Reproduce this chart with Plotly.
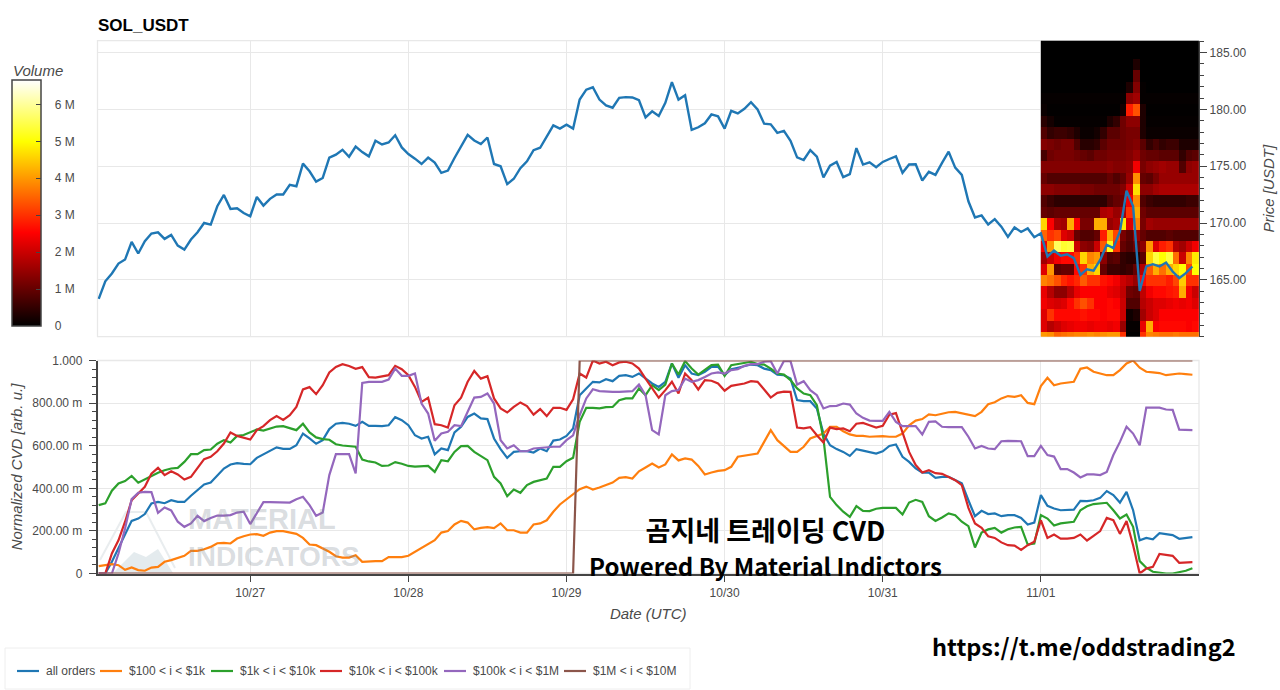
#!/usr/bin/env python3
import pandas as pd
import plotly.graph_objects as go

WIDTH = 1280
HEIGHT = 690

# hourly samples, 10/26 01:00 to 11/01 23:00 UTC
price = [
    163.33, 164.88, 165.56, 166.44, 166.79, 168.34, 167.32, 168.40, 169.08, 169.19, 168.61, 168.96,
    168.02, 167.67, 168.55, 169.19, 170.01, 169.87, 171.48, 172.48, 171.25, 171.31, 170.89, 170.60,
    172.30, 171.54, 172.13, 172.51, 172.51, 173.36, 173.24, 175.23, 174.56, 173.65, 173.97, 175.75,
    176.02, 176.45, 175.84, 176.74, 176.25, 175.87, 177.24, 176.92, 177.09, 177.73, 176.66, 176.08,
    175.67, 175.20, 175.76, 175.32, 174.42, 174.62, 175.73, 176.80, 177.76, 177.27, 176.95, 177.53,
    175.20, 175.00, 173.43, 173.90, 174.83, 175.44, 176.42, 176.63, 177.59, 178.60, 178.31, 178.66,
    178.31, 180.87, 181.74, 181.95, 180.87, 180.35, 180.15, 181.02, 181.08, 181.05, 180.81, 179.30,
    179.83, 179.42, 180.58, 182.41, 180.87, 181.25, 178.20, 178.43, 178.78, 179.56, 179.39, 178.31,
    179.88, 179.65, 180.06, 180.64, 180.00, 178.75, 178.69, 177.94, 178.11, 177.24, 175.78, 175.55,
    176.42, 175.84, 174.01, 175.06, 175.38, 174.04, 174.30, 176.60, 175.15, 175.35, 174.91, 175.38,
    175.64, 175.87, 174.42, 175.15, 175.17, 173.75, 174.51, 174.24, 175.29, 176.28, 174.88, 174.24,
    171.92, 170.49, 170.67, 169.88, 170.35, 169.68, 168.78, 169.62, 169.22, 169.53, 168.75, 169.10,
    167.06, 167.59, 167.12, 167.26, 166.91, 165.44, 165.94, 165.82, 166.76, 168.09, 167.79, 169.26,
    172.85, 171.47, 164.03, 166.18, 166.38, 166.18, 166.53, 165.74, 165.15, 165.59, 166.18,
]

cvd_all = [
    0.0, 0.0, .055, .117, .18, .247, .258, .279, .329, .336, .33, .344, .336, .336, .365, .391, .418, .427,
    .459, .493, .512, .518, .515, .513, .543, .559, .577, .592, .585, .585, .602, .657, .634, .609, .626,
    .678, .703, .707, .703, .693, .712, .693, .693, .692, .696, .734, .72, .696, .649,
    .634, .642, .559, .587, .579, .662, .689, .735, .751, .728, .725, .634, .584, .543, .571, .574, .574,
    .568, .587, .574, .624, .629, .646, .681, .837, .869, .90, .897, .912, .903, .928, .931, .923, .939,
    .915, .892, .876, .90, .986, .919, .978, .939, .931, .947, .97, .97, .931, .959, .966, .975, .981,
    .978, .962, .955, .934, .931, .915, .814, .809, .809, .775, .657, .602, .584,
    .571, .552, .584, .577, .571, .563, .574, .599, .606, .548, .524, .493, .474, .474, .449, .454, .454,
    .438, .423, .344, .269, .294, .279, .282, .269, .274, .274, .261, .23, .239, .368, .318, .305, .297,
    .299, .30, .341, .34, .344, .355, .387, .368, .333, .383, .297, .156, .167, .161, .189, .183, .18,
    .163, .166, .171,
]
cvd_100_1k = [
    .035, .039, .044, .039, .017, .028, .016, .013, .028, .031, .055, .063, .074, .083, .106, .106, .114,
    .125, .142, .144, .141, .164, .175, .183, .185, .177, .192, .199, .199, .191, .186, .167, .136, .133,
    .117, .102, .081, .075, .075, .086, .055, .058, .058, .058, .077, .077, .077, .083, .102,
    .12, .141, .156, .192, .199, .23, .247, .239, .207, .214, .218, .213, .235, .203, .203, .192, .192,
    .23, .235, .25, .29, .324, .347, .371, .396, .408, .394, .404, .415, .427, .449, .452, .446, .48,
    .498, .516, .498, .512, .559, .531, .54, .535, .505, .465, .474, .482, .485, .501, .548, .552, .556,
    .563, .618, .673, .626, .599, .571, .571, .595, .634, .646, .657, .689, .689,
    .668, .653, .646, .646, .642, .645, .645, .642, .642, .657, .696, .718, .725, .747, .743, .75, .757,
    .759, .753, .745, .739, .759, .795, .804, .822, .833, .829, .837, .801, .795, .88, .919, .884, .892,
    .895, .90, .961, .967, .947, .939, .931, .931, .955, .986, 1.0, .966, .947, .944, .941, .931, .934,
    .939, .936, .933,
]
cvd_1k_10k = [
    .321, .329, .389, .423, .434, .458, .426, .442, .458, .473, .485, .493, .496, .524, .56, .56, .579,
    .582, .609, .626, .615, .646, .65, .662, .676, .671, .681, .69, .692, .684, .673, .703, .662, .639,
    .631, .628, .607, .601, .598, .595, .535, .526, .521, .505, .507, .523, .515, .505, .502,
    .505, .505, .477, .532, .527, .571, .598, .599, .571, .552, .532, .454, .423, .363, .394, .379, .415,
    .43, .438, .446, .501, .501, .527, .543, .712, .778, .778, .775, .781, .782, .814, .822, .822, .869,
    .837, .884, .861, .887, .986, .934, .997, .962, .934, .955, .978, .981, .928, .978, .984, .987, .994,
    .983, .981, .962, .939, .934, .908, .869, .845, .837, .79, .634, .36, .321,
    .29, .266, .316, .294, .293, .304, .308, .308, .308, .277, .333, .346, .336, .269, .247, .263, .282,
    .274, .243, .222, .122, .192, .207, .214, .192, .208, .216, .219, .136, .141, .274, .258, .225, .235,
    .238, .243, .297, .316, .326, .33, .332, .297, .258, .277, .219, .058, .027, .008, .003, 0.0, 0.0,
    .005, .013, .025,
]
cvd_10k_100k = [
    0.0, 0.0, .094, .156, .243, .344, .376, .407, .469, .496, .462, .48, .465, .441, .454, .493, .537,
    .548, .574, .61, .662, .646, .637, .629, .673, .692, .72, .739, .721, .743, .782, .864, .875, .842,
    .884, .944, .97, .983, .974, .961, .969, .922, .92, .925, .931, .975, .959, .931, .876,
    .806, .825, .701, .696, .685, .79, .825, .90, .951, .915, .926, .822, .775, .756, .782, .803, .786,
    .746, .772, .739, .778, .778, .768, .818, .939, .92, 1.0, .986, .994, .978, .991, .994, .986, .962,
    .915, .869, .825, .861, .90, .845, .939, .908, .864, .908, .905, .892, .858, .881, .887, .892, .903,
    .90, .864, .826, .848, .854, .853, .685, .681, .687, .649, .615, .685, .678,
    .681, .668, .703, .707, .696, .685, .693, .746, .753, .657, .571, .509, .474, .485, .471, .468, .454,
    .438, .415, .308, .235, .214, .175, .167, .146, .133, .131, .111, .133, .149, .25, .167, .183, .164,
    .164, .167, .183, .155, .177, .199, .261, .25, .186, .246, .133, 0.0, .023, .031, .092, .088, .083,
    .05, .05, .053,
]
cvd_100k_1m = [
    0.0, 0.0, 0.0, .094, .211, .349, .379, .383, .382, .285, .31, .296, .243, .219, .235, .271, .246,
    .261, .272, .272, .274, .286, .29, .232, .282, .335, .335, .335, .335, .333, .349, .36, .321, .271,
    .286, .462, .56, .56, .56, .47, .895, .90, .90, .90, .91, .962, .928, .928, .939,
    .798, .751, .623, .657, .665, .696, .692, .759, .826, .829, .845, .798, .626, .587, .602, .574, .574,
    .587, .59, .59, .595, .595, .626, .649, .743, .822, .865, .856, .853, .853, .853, .853, .856, .887,
    .837, .673, .653, .837, .856, .861, .915, .90, .908, .923, .939, .944, .939, .955, .959, .975, .983,
    .983, .994, .997, .939, .998, .997, .887, .903, .861, .837, .775, .786, .787,
    .798, .793, .751, .731, .718, .717, .717, .759, .712, .692, .692, .692, .653, .712, .714, .689, .687,
    .687, .687, .642, .587, .599, .587, .584, .621, .623, .621, .621, .551, .551, .599, .556, .549, .49,
    .49, .474, .451, .465, .465, .462, .477, .556, .618, .689, .657, .602, .779, .779, .779, .77, .768,
    .675, .675, .673,
]
cvd_1m_10m = [0.0] * 73 + [1.0] * 94

series_names = ["all orders", "$100 < i < $1k", "$1k < i < $10k", "$10k < i < $100k", "$100k < i < $1M", "$1M < i < $10M"]
series_colors = ["#1f77b4", "#ff7f0e", "#2ca02c", "#d62728", "#9467bd", "#8c564b"]

# volume profile in M, bottom row first, one column per hour of 11/01
volume_prices = [159.94 + k for k in range(27)]
volume = [
    [4.0, 3.9, 3.5, 3.6, 3.7, 3.8, 3.8, 3.9, 3.8, 3.9, 4.0, 4.0, 3.0, 0.0, 0.0, 3.0, 3.8, 3.7, 3.6, 3.6, 3.7, 3.6, 3.6, 3.6],
    [2.2, 1.8, 2.0, 2.2, 2.3, 2.4, 2.4, 2.3, 2.4, 2.4, 2.3, 2.4, 1.5, .05, .05, 2.3, 4.2, 2.5, 2.6, 2.6, 2.6, 2.6, 2.5, 2.6],
    [2.2, 3.0, 2.6, 2.6, 2.6, 2.6, 2.7, 2.6, 2.6, 2.5, 2.6, 2.6, 2.0, .15, .3, 1.6, 2.0, 2.2, 2.5, 2.5, 2.5, 2.5, 2.5, 2.5],
    [2.4, 2.2, 2.1, 2.2, 2.6, 3.0, 3.3, 3.0, 2.5, 2.5, 2.6, 2.5, 2.0, .8, .8, 1.8, 2.0, 2.2, 2.2, 2.3, 2.4, 2.3, 2.4, 2.2],
    [2.3, 1.8, 1.4, 1.4, 1.8, 2.3, 2.5, 2.5, 2.5, 2.5, 2.3, 2.2, 1.9, 1.1, 1.0, 1.9, 2.4, 2.6, 2.6, 2.7, 2.8, 4.2, 2.4, 2.0],
    [3.8, 3.6, 3.3, 2.9, 2.7, 2.9, 3.4, 3.0, 3.0, 2.7, 2.6, 2.4, 2.0, 1.8, 1.5, 2.6, 3.0, 3.0, 3.0, 2.8, 3.2, 4.5, 3.0, 3.0],
    [2.2, 4.0, .9, 1.0, 1.0, 2.6, 3.0, 4.2, 4.6, 1.0, .6, .6, .5, .6, 1.0, 1.8, 3.4, 4.2, 3.6, 4.2, 4.6, 5.0, 3.2, 5.0],
    [1.6, 2.0, 2.4, 2.6, 2.6, 3.0, 4.6, 3.8, 4.0, 1.4, .8, .9, .5, .4, .4, .9, 4.6, 5.4, 5.0, 5.4, 3.6, 2.0, 3.8, 4.8],
    [2.4, 4.0, 5.6, 5.3, 5.4, 2.0, 1.4, 1.3, 2.0, 3.4, 5.2, 3.0, 1.0, .8, 1.1, 1.4, 4.0, 2.2, 2.8, 3.0, 1.8, 1.6, 2.0, 2.4],
    [3.5, 3.0, 3.2, 2.2, 2.0, 1.0, .8, .8, 1.0, 2.8, 4.2, 3.2, 1.2, .9, 1.5, 1.0, .8, .8, .8, .9, .8, .8, .8, .8],
    [4.6, 2.5, 1.7, 1.6, 4.2, 2.5, 1.2, 1.2, 4.2, 4.2, 1.5, 1.7, 4.8, 2.2, 3.8, 1.2, 1.6, 1.5, 1.5, 1.5, 1.5, 1.5, 1.5, 1.5],
    [1.0, .9, 1.0, 1.0, 1.0, 1.0, 1.0, 1.0, 1.0, 1.7, 1.8, 1.5, 1.7, 3.0, 4.2, 1.1, .9, .9, .9, .9, .9, .9, .9, .9],
    [.8, .6, .45, .45, .45, .45, .45, .45, .45, .45, .8, 1.0, 1.1, 2.4, 3.9, .8, .6, .5, .5, .5, .5, .5, .6, .6],
    [1.4, 1.4, 1.3, 1.3, 1.3, 1.3, 1.2, 1.2, 1.1, 1.1, 1.1, 1.1, 1.3, 2.0, 4.7, 1.4, 1.4, 1.6, 1.7, 1.7, 1.7, 1.7, 1.7, 1.7],
    [1.0, .8, .8, .8, .8, .8, .8, .8, .8, .8, 1.0, .8, 1.0, 1.5, 3.9, 1.0, .9, 1.2, 1.5, 1.5, 1.5, 1.5, 1.5, 1.5],
    [1.3, 1.3, 1.3, 1.3, 1.3, 1.3, 1.3, 1.3, 1.3, 1.3, 1.4, 1.3, 1.3, 1.4, 2.4, 1.2, 1.4, 1.5, 1.6, 1.5, 1.5, .8, 1.4, 1.5],
    [.7, 1.1, 1.2, 1.2, 1.2, 1.1, 1.0, .9, 1.1, 1.1, 1.2, 1.2, 1.2, 1.3, 1.5, 1.1, 1.0, 1.0, .9, .9, .9, .5, .8, .9],
    [1.3, 1.2, 1.1, 1.2, 1.2, .8, .4, .4, .5, .9, 1.1, 1.1, 1.1, 1.2, 1.3, .9, .5, .7, .5, .6, .6, .3, .3, .3],
    [.8, .5, .6, .6, .5, .3, .1, .1, .2, .5, .9, .9, 1.1, 1.2, 1.2, .3, .1, .1, .1, .1, .1, .1, .1, .1],
    [.4, .2, .05, .05, .05, .05, .05, .05, .05, .05, .3, .5, 1.1, 1.4, 1.4, .3, .05, .05, .05, .05, .05, .05, .05, .05],
    [.1, .02, .02, .02, .02, .02, .02, .02, .02, .02, .02, .02, .2, 2.8, 3.3, .3, .02, .02, .02, .02, .02, .02, .02, .02],
    [.05, .05, .05, .05, .05, .05, .05, .05, .05, .05, .05, .05, .05, 1.4, 1.6, .05, .05, .05, .05, .05, .05, .05, .05, .05],
    [0, 0, 0, 0, 0, 0, 0, 0, 0, 0, 0, 0, 0, .3, 1.3, .05, 0, 0, 0, 0, 0, 0, 0, 0],
    [0, 0, 0, 0, 0, 0, 0, 0, 0, 0, 0, 0, 0, 0, 1.0, 0, 0, 0, 0, 0, 0, 0, 0, 0],
    [0, 0, 0, 0, 0, 0, 0, 0, 0, 0, 0, 0, 0, 0, .3, 0, 0, 0, 0, 0, 0, 0, 0, 0],
    [0] * 24,
    [0] * 24,
]

volume_ticks = [0, 1, 2, 3, 4, 5, 6]
volume_labels = ["\u00a0\u00a0\u00a00", "\u00a0\u00a0\u00a01 M", "\u00a0\u00a0\u00a02 M", "\u00a0\u00a0\u00a03 M", "\u00a0\u00a0\u00a04 M", "\u00a0\u00a0\u00a05 M", "\u00a0\u00a0\u00a06 M"]
cvd_ticks = [0, 0.2, 0.4, 0.6, 0.8, 1.0]
cvd_labels = ["0", "200.00 m", "400.00 m", "600.00 m", "800.00 m", "1.000"]
price_ticks = [165, 170, 175, 180, 185]
price_labels = ["165.00", "170.00", "175.00", "180.00", "185.00"]
date_ticks = ["2024-10-27", "2024-10-28", "2024-10-29", "2024-10-30", "2024-10-31", "2024-11-01"]
date_labels = ["10/27", "10/28", "10/29", "10/30", "10/31", "11/01"]

hot_scale = [[0, "#000000"], [0.38, "#ff0000"], [0.75, "#ffff00"], [1, "#ffffff"]]

GRID = "#e8e8e8"
AXIS = "#444444"
TEXT = "#4a4a4a"
SANS = "Liberation Sans"
BLACK_FONT = "Noto Sans CJK KR"


def px(x):
    return x / WIDTH


def py(y):
    return 1 - y / HEIGHT


hours = pd.date_range("2024-10-26 01:00", periods=len(price), freq="h")
volume_hours = pd.date_range("2024-11-01 00:30", periods=24, freq="h")

fig = go.Figure()

fig.add_trace(
    go.Heatmap(
        x=volume_hours,
        y=volume_prices,
        z=volume,
        zmin=0,
        zmax=6.66,
        colorscale=hot_scale,
        xaxis="x",
        yaxis="y",
        hoverongaps=False,
        colorbar={
            "x": px(12),
            "xanchor": "left",
            "xpad": 0,
            "y": py(326),
            "yanchor": "bottom",
            "ypad": 0,
            "len": 245.5,
            "lenmode": "pixels",
            "thickness": 29,
            "outlinecolor": AXIS,
            "outlinewidth": 1.5,
            "ticks": "inside",
            "ticklen": 5,
            "tickcolor": AXIS,
            "tickvals": volume_ticks,
            "ticktext": volume_labels,
            "tickfont": {"family": SANS, "size": 12, "color": TEXT},
        },
    )
)
fig.add_trace(
    go.Scatter(
        x=hours,
        y=price,
        mode="lines",
        line={"color": series_colors[0], "width": 2.4},
        xaxis="x",
        yaxis="y",
        showlegend=False,
    )
)

cvd_series = [cvd_all, cvd_100_1k, cvd_1k_10k, cvd_10k_100k, cvd_100k_1m, cvd_1m_10m]
for name, color, values in zip(series_names, series_colors, cvd_series):
    fig.add_trace(
        go.Scatter(
            x=hours,
            y=values,
            mode="lines",
            name=name,
            line={"color": color, "width": 2.2},
            xaxis="x2",
            yaxis="y2",
            cliponaxis=False,
            showlegend=False,
        )
    )

date_axis = {
    "range": ["2024-10-26 00:49", "2024-11-02 00:00"],
    "domain": [px(97.5), px(1199)],
    "tickvals": date_ticks,
    "ticktext": date_labels,
    "automargin": False,
    "showgrid": True,
    "gridcolor": GRID,
    "gridwidth": 1.3,
    "zeroline": False,
}

fig.update_layout(
    width=WIDTH,
    height=HEIGHT,
    margin={"l": 0, "r": 0, "t": 0, "b": 0},
    paper_bgcolor="white",
    plot_bgcolor="white",
    font={"family": SANS, "size": 12, "color": TEXT},
    title={
        "text": "<b>SOL_USDT</b>",
        "x": px(98),
        "xanchor": "left",
        "y": py(25),
        "yanchor": "middle",
        "font": {"family": SANS, "size": 17, "color": "#000000"},
    },
    xaxis={**date_axis, "anchor": "y", "showticklabels": False, "ticks": ""},
    yaxis={
        "domain": [py(336.7), py(40.7)],
        "range": [160.0, 186.05],
        "side": "right",
        "anchor": "x",
        "automargin": False,
        "tickvals": price_ticks,
        "ticktext": price_labels,
        "ticks": "outside",
        "ticklen": 7,
        "tickcolor": AXIS,
        "tickfont": {"size": 12, "color": TEXT},
        "minor": {"dtick": 1, "tick0": 160, "ticks": "outside", "ticklen": 4, "tickcolor": AXIS, "showgrid": False},
        "showline": True,
        "linecolor": AXIS,
        "linewidth": 1.3,
        "showgrid": True,
        "gridcolor": GRID,
        "gridwidth": 1.3,
        "zeroline": False,
        "title": {"text": "<i>Price [USDT]</i>", "font": {"size": 15, "color": TEXT}, "standoff": 17},
    },
    xaxis2={
        **date_axis,
        "anchor": "y2",
        "ticks": "outside",
        "ticklen": 7,
        "tickcolor": AXIS,
        "tickfont": {"size": 12, "color": TEXT},
        "showline": True,
        "linecolor": AXIS,
        "linewidth": 1.5,
        "title": {"text": "<i>Date (UTC)</i>", "font": {"size": 15, "color": TEXT}, "standoff": 10},
    },
    yaxis2={
        "domain": [py(573.5), py(360.5)],
        "range": [0, 1],
        "anchor": "x2",
        "automargin": False,
        "tickvals": cvd_ticks,
        "ticktext": cvd_labels,
        "ticks": "outside",
        "ticklen": 7,
        "tickcolor": AXIS,
        "tickfont": {"size": 12, "color": TEXT},
        "ticklabelstandoff": 4,
        "minor": {"dtick": 0.04, "tick0": 0, "ticks": "outside", "ticklen": 4, "tickcolor": AXIS, "showgrid": False},
        "showline": True,
        "linecolor": AXIS,
        "linewidth": 1.5,
        "showgrid": True,
        "gridcolor": GRID,
        "gridwidth": 1.3,
        "zeroline": False,
        "title": {"text": "<i>Normalized CVD [arb. u.]</i>", "font": {"size": 15, "color": TEXT}, "standoff": 6},
    },
)

# panel frames, legend box, faint logo behind the lower panel
shapes = [
    {"type": "rect", "xref": "paper", "yref": "paper", "x0": px(97.5), "x1": px(1199), "y0": py(336.7), "y1": py(40.7),
     "line": {"color": GRID, "width": 1.3}, "layer": "below"},
    {"type": "rect", "xref": "paper", "yref": "paper", "x0": px(97.5), "x1": px(1199), "y0": py(573.5), "y1": py(360.5),
     "line": {"color": GRID, "width": 1.3}, "layer": "below"},
    {"type": "rect", "xref": "paper", "yref": "paper", "x0": px(5), "x1": px(690), "y0": py(689), "y1": py(648),
     "line": {"color": "#eeeeee", "width": 1}, "layer": "below"},
    {"type": "path", "xref": "paper", "yref": "paper", "layer": "below",
     "path": f"M {px(113)} {py(573)} L {px(134)} {py(552)} L {px(146)} {py(557)} L {px(158)} {py(549)} L {px(173)} {py(573)} Z",
     "fillcolor": "#e4ebee", "line": {"width": 0}},
    {"type": "path", "xref": "paper", "yref": "paper", "layer": "below",
     "path": f"M {px(100)} {py(560)} L {px(126)} {py(512)} L {px(146)} {py(512)} L {px(175)} {py(568)}",
     "line": {"color": "#e9edef", "width": 2}},
]

legend_x = [17, 100, 211, 320, 444, 564]
annotations = []
for name, color, x0 in zip(series_names, series_colors, legend_x):
    shapes.append(
        {"type": "line", "xref": "paper", "yref": "paper", "x0": px(x0), "x1": px(x0 + 22), "y0": py(671), "y1": py(671),
         "line": {"color": color, "width": 2.2}}
    )
    annotations.append(
        {"text": name, "xref": "paper", "yref": "paper", "x": px(x0 + 27), "y": py(671), "xanchor": "left", "yanchor": "middle",
         "showarrow": False, "font": {"family": SANS, "size": 12, "color": TEXT}}
    )

# the two overlay lines share one text block so their boxes do not collide
overlay_text = [
    ("<i>Volume</i>", 11, 70, "left", SANS, 15, TEXT),
    ("<b>MATERIAL</b>", 186, 519, "left", SANS, 29, "rgba(130,140,150,0.3)"),
    ("<b>INDICATORS</b>", 186, 556, "left", SANS, 28, "rgba(130,140,150,0.3)"),
    ("<b>곰지네 트레이딩 CVD</b><br><span style='font-size:24px'><b>Powered By Material Indictors</b></span>",
     765, 546, "center", BLACK_FONT, 27, "#000000"),
    ("<b>https://t.me/oddstrading2</b>", 1084, 646, "center", BLACK_FONT, 23.5, "#000000"),
]
for text, x, y, anchor, family, size, color in overlay_text:
    annotations.append(
        {"text": text, "xref": "paper", "yref": "paper", "x": px(x), "y": py(y), "xanchor": anchor, "yanchor": "middle",
         "align": "center", "showarrow": False, "font": {"family": family, "size": size, "color": color}}
    )

fig.update_layout(shapes=shapes, annotations=annotations)

fig.write_html("out.html", config={"displayModeBar": False}, post_script="document.body.style.margin='0';")
